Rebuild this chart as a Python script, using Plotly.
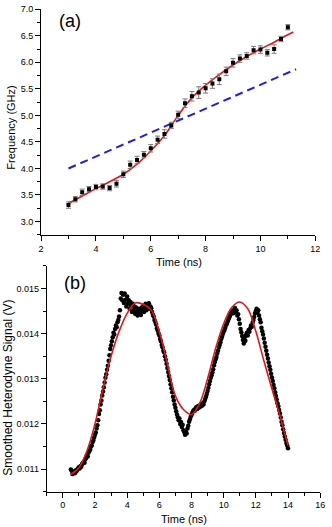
import plotly.graph_objects as go

# ---------------- Panel (a) data ----------------
time_a = [3.00, 3.25, 3.50, 3.75, 4.00, 4.25, 4.50, 4.75, 5.00, 5.25, 5.50,
          5.75, 6.00, 6.25, 6.50, 6.75, 7.00, 7.25, 7.50, 7.75, 8.00, 8.25,
          8.50, 8.75, 9.00, 9.25, 9.50, 9.75, 10.00, 10.25, 10.50, 10.75, 11.00]
freq_a = [3.31, 3.42, 3.55, 3.61, 3.65, 3.66, 3.63, 3.71, 3.89, 4.07, 4.16,
          4.26, 4.38, 4.54, 4.65, 4.81, 5.01, 5.23, 5.36, 5.43, 5.51, 5.60,
          5.68, 5.83, 5.99, 6.07, 6.12, 6.23, 6.24, 6.18, 6.25, 6.44, 6.66]
err_a = [0.06, 0.05, 0.06, 0.05, 0.05, 0.05, 0.05, 0.06, 0.06, 0.07, 0.07,
         0.06, 0.07, 0.07, 0.08, 0.06, 0.07, 0.08, 0.09, 0.11, 0.09, 0.09,
         0.10, 0.08, 0.08, 0.07, 0.06, 0.07, 0.07, 0.06, 0.08, 0.05, 0.05]

fit_time_a = [3.0, 3.5, 4.0, 4.5, 5.0, 5.5, 6.0, 6.5, 7.0, 7.5, 8.0, 8.5,
              9.0, 9.5, 10.0, 10.5, 11.0, 11.2]
fit_freq_a = [3.34, 3.48, 3.62, 3.75, 3.89, 4.08, 4.33, 4.62, 5.00, 5.33, 5.57,
              5.77, 5.95, 6.11, 6.25, 6.38, 6.52, 6.57]

lin_time_a = [3.0, 11.3]
lin_freq_a = [4.00, 5.87]

# ---------------- Panel (b) data ----------------
signal_b = [
    0.01099, 0.01096, 0.01089, 0.01092, 0.01094, 0.01091, 0.01097, 0.01095, 0.01099, 0.01101,
    0.01104, 0.01101, 0.01107, 0.01105, 0.01111, 0.01113, 0.01116, 0.01114, 0.01122, 0.01125,
    0.01130, 0.01128, 0.01136, 0.01140, 0.01143, 0.01150, 0.01152, 0.01160, 0.01163, 0.01170,
    0.01176, 0.01181, 0.01190, 0.01197, 0.01208, 0.01222, 0.01230, 0.01243, 0.01252, 0.01263,
    0.01272, 0.01281, 0.01292, 0.01302, 0.01310, 0.01320, 0.01329, 0.01340, 0.01352, 0.01366,
    0.01374, 0.01383, 0.01392, 0.01402, 0.01398, 0.01410, 0.01418, 0.01414, 0.01425, 0.01430,
    0.01438, 0.01452, 0.01478, 0.01490, 0.01474, 0.01486, 0.01468, 0.01489, 0.01475, 0.01460,
    0.01482, 0.01466, 0.01474, 0.01455, 0.01470, 0.01462, 0.01448, 0.01466, 0.01452, 0.01460,
    0.01444, 0.01458, 0.01449, 0.01440, 0.01455, 0.01446, 0.01452, 0.01441, 0.01458, 0.01450,
    0.01462, 0.01448, 0.01457, 0.01466, 0.01452, 0.01463, 0.01458, 0.01467, 0.01455, 0.01460,
    0.01456, 0.01448, 0.01442, 0.01438, 0.01430, 0.01426, 0.01420, 0.01412, 0.01407, 0.01400,
    0.01396, 0.01388, 0.01383, 0.01375, 0.01370, 0.01362, 0.01358, 0.01350, 0.01342, 0.01333,
    0.01324, 0.01315, 0.01306, 0.01297, 0.01288, 0.01279, 0.01270, 0.01260, 0.01252, 0.01243,
    0.01236, 0.01228, 0.01221, 0.01215, 0.01208, 0.01212, 0.01200, 0.01204, 0.01193, 0.01198,
    0.01186, 0.01182, 0.01176, 0.01183, 0.01179, 0.01190, 0.01196, 0.01205, 0.01210, 0.01216,
    0.01220, 0.01224, 0.01228, 0.01231, 0.01229, 0.01234, 0.01237, 0.01233, 0.01239, 0.01236,
    0.01241, 0.01238, 0.01244, 0.01240, 0.01246, 0.01243, 0.01250, 0.01255, 0.01260, 0.01266,
    0.01273, 0.01280, 0.01288, 0.01295, 0.01302, 0.01308, 0.01314, 0.01321, 0.01330, 0.01337,
    0.01343, 0.01348, 0.01356, 0.01362, 0.01369, 0.01375, 0.01381, 0.01388, 0.01393, 0.01399,
    0.01404, 0.01408, 0.01413, 0.01419, 0.01422, 0.01427, 0.01432, 0.01436, 0.01440, 0.01444,
    0.01447, 0.01450, 0.01445, 0.01453, 0.01457, 0.01448, 0.01452, 0.01440, 0.01443, 0.01432,
    0.01422, 0.01410, 0.01403, 0.01395, 0.01386, 0.01378, 0.01392, 0.01384, 0.01398, 0.01402,
    0.01396, 0.01408, 0.01404, 0.01412, 0.01418, 0.01415, 0.01424, 0.01430, 0.01437, 0.01445,
    0.01450, 0.01455, 0.01447, 0.01452, 0.01440, 0.01432, 0.01425, 0.01413, 0.01405, 0.01398,
    0.01389, 0.01380, 0.01371, 0.01362, 0.01353, 0.01345, 0.01336, 0.01328, 0.01320, 0.01311,
    0.01303, 0.01295, 0.01287, 0.01279, 0.01270, 0.01262, 0.01254, 0.01246, 0.01239, 0.01231,
    0.01223, 0.01214, 0.01205, 0.01197, 0.01188, 0.01180, 0.01172, 0.01165, 0.01158, 0.01152,
    0.01146,
]
# sampling grid: 0.50 ns to 14.00 ns every 0.05 ns
time_b = [round(0.50 + 0.05 * i, 2) for i in range(len(signal_b))]

fit_time_b = [0.5, 1.0, 1.5, 2.0, 2.5, 3.0, 3.5, 4.0, 4.5, 5.0, 5.5, 6.0, 6.5,
              7.0, 7.5, 8.0, 8.5, 9.0, 9.5, 10.0, 10.5, 11.0, 11.5, 12.0, 12.5,
              13.0, 13.5, 14.0]
fit_signal_b = [0.01088, 0.01103, 0.01140, 0.01200, 0.01280, 0.01350, 0.01405,
                0.01445, 0.01468, 0.01465, 0.01452, 0.01404, 0.01333, 0.01262,
                0.01232, 0.01221, 0.01245, 0.01300, 0.01367, 0.01422, 0.01458,
                0.01470, 0.01455, 0.01405, 0.01340, 0.01278, 0.01218, 0.01152]

W, H = 332, 527
FONT = "Liberation Sans, Arial, sans-serif"

fig = go.Figure()

# Panel (a)
fig.add_trace(go.Scatter(x=lin_time_a, y=lin_freq_a, mode="lines",
                         line=dict(color="#1f1fe6", width=2, dash="8px,5px"),
                         xaxis="x", yaxis="y", showlegend=False))
fig.add_trace(go.Scatter(x=fit_time_a, y=fit_freq_a, mode="lines",
                         line=dict(color="#e8141b", width=1.6, shape="spline"),
                         xaxis="x", yaxis="y", showlegend=False))
fig.add_trace(go.Scatter(x=time_a, y=freq_a, mode="markers",
                         marker=dict(color="black", size=4, symbol="square"),
                         error_y=dict(type="data", array=err_a, color="#7a7a7a",
                                      thickness=1, width=2.5),
                         xaxis="x", yaxis="y", showlegend=False))

# Panel (b)
fig.add_trace(go.Scatter(x=time_b, y=signal_b, mode="markers",
                         marker=dict(color="black", size=4.5),
                         xaxis="x2", yaxis="y2", showlegend=False))
fig.add_trace(go.Scatter(x=fit_time_b, y=fit_signal_b, mode="lines",
                         line=dict(color="#e8141b", width=1.6, shape="spline"),
                         xaxis="x2", yaxis="y2", showlegend=False))

axis_common = dict(showline=True, linecolor="black", linewidth=1,
                   ticks="outside", ticklen=5, tickwidth=1, tickcolor="black",
                   showgrid=False, zeroline=False, ticklabeloverflow="allow",
                   tickfont=dict(family=FONT, size=9, color="black"))

fig.update_layout(
    width=W, height=H, autosize=False,
    margin=dict(l=0, r=0, t=0, b=0),
    paper_bgcolor="white", plot_bgcolor="white",
    font=dict(family=FONT, color="black"),
    xaxis=dict(domain=[39 / W, 320 / W], range=[2, 12.0001], dtick=2, tick0=2,
               anchor="y",
               minor=dict(ticks="outside", ticklen=3, dtick=1, tickcolor="black"),
               **axis_common),
    yaxis=dict(domain=[1 - 232 / H, 1 - 4.3 / H], range=[2.75, 7.0001], dtick=0.5,
               tick0=3.0, tickformat=".1f", anchor="x",
               minor=dict(ticks="outside", ticklen=3, dtick=0.25, tickcolor="black"),
               **axis_common),
    xaxis2=dict(domain=[44.8 / W, 325 / W], range=[-1, 16.0001], dtick=2, tick0=0,
                anchor="y2",
                minor=dict(ticks="outside", ticklen=3, dtick=1, tickcolor="black"),
                **axis_common),
    yaxis2=dict(domain=[1 - 491.3 / H, 1 - 263.4 / H], range=[0.0105, 0.0155],
                dtick=0.001, tick0=0.011, tickformat=".3f", anchor="x2",
                minor=dict(ticks="outside", ticklen=3, dtick=0.0005, tickcolor="black"),
                **axis_common),
)

annots = [
    dict(text="Frequency (GHz)", x=8 / W, y=1 - 124 / H, textangle=-90, size=11),
    dict(text="Time (ns)", x=180 / W, y=1 - 259 / H, textangle=0, size=11),
    dict(text="Smoothed Heterodyne Signal (V)", x=5.5 / W, y=1 - 386 / H,
         textangle=-90, size=12),
    dict(text="Time (ns)", x=185 / W, y=1 - 519 / H, textangle=0, size=11),
    dict(text="(a)", x=68.5 / W, y=1 - 16 / H, textangle=0, size=18),
    dict(text="(b)", x=73.5 / W, y=1 - 281 / H, textangle=0, size=18),
]
for a in annots:
    fig.add_annotation(text=a["text"], x=a["x"], y=a["y"], xref="paper",
                       yref="paper", xanchor="center", yanchor="middle",
                       textangle=a["textangle"], showarrow=False,
                       font=dict(family=FONT, size=a["size"], color="black"))

fig.write_html("out.html",
               config={"displayModeBar": False},
               post_script="document.body.style.margin='0px';"
                           "document.body.style.padding='0px';")
